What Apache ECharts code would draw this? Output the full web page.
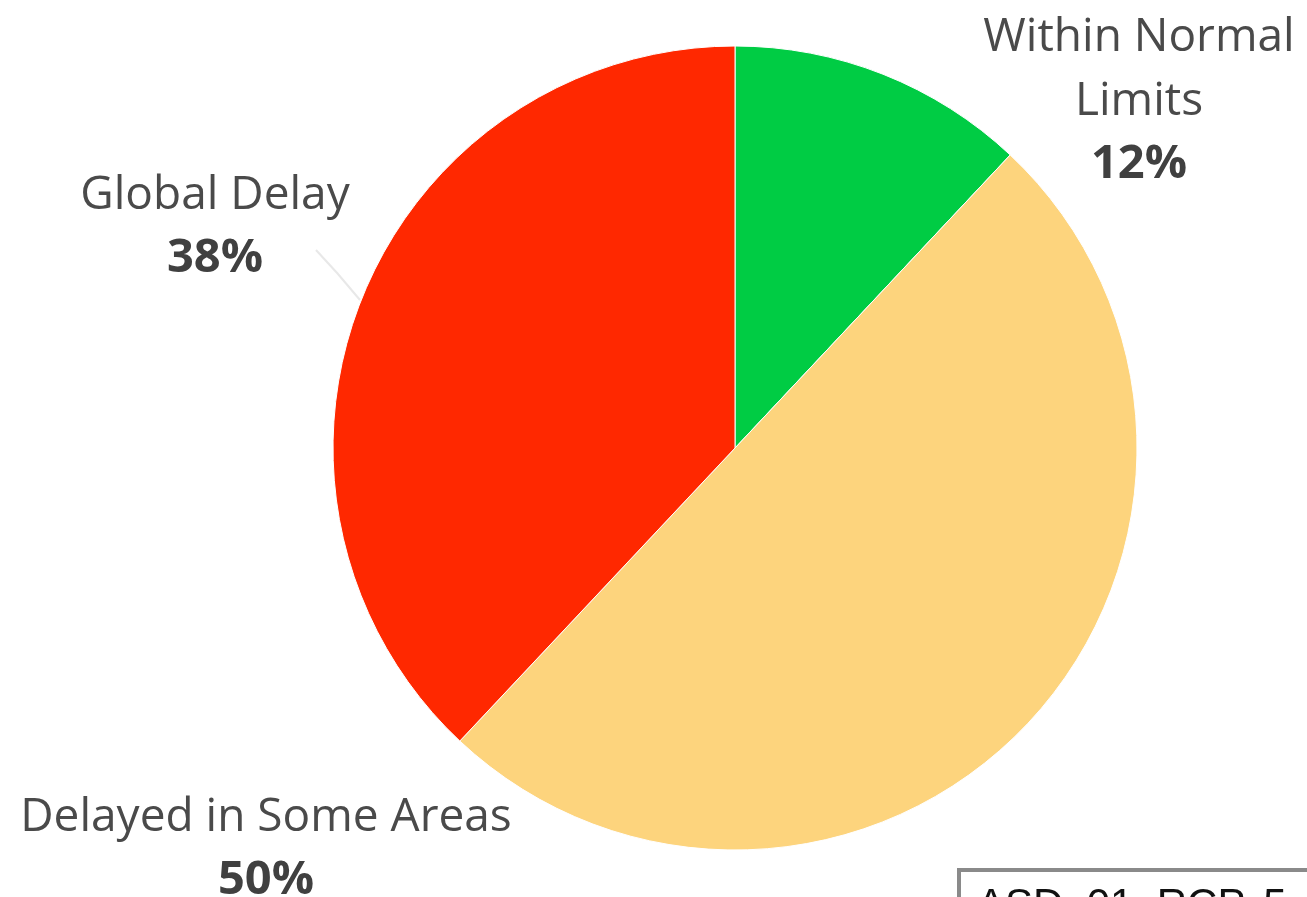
<!DOCTYPE html>
<html><head><meta charset="utf-8">
<script src="https://cdn.jsdelivr.net/npm/echarts@6/dist/echarts.min.js"></script>
<style>html,body{margin:0;padding:0;background:#fff}#c{width:1307px;height:897px}</style>
</head><body><div id="c"></div>
<script>
const categories = ['Within Normal Limits', 'Delayed in Some Areas', 'Global Delay'];
const labelNames = ['Within Normal\nLimits', 'Delayed in Some Areas', 'Global Delay'];
const values = [12, 50, 38];
const colors = ['#00CC44', '#FDD47D', '#FF2800'];
const labelPos = [[1139, 101], [266, 849], [215, 227]];

const chart = echarts.init(document.getElementById('c'), null, {renderer: 'canvas'});
chart.setOption({
  backgroundColor: '#ffffff',
  animation: false,
  series: [{
    type: 'pie',
    center: [735, 448],
    radius: [0, 402],
    startAngle: 90,
    clockwise: true,
    itemStyle: {borderColor: '#ffffff', borderWidth: 1},
    label: {
      show: true,
      position: 'outside',
      align: 'center',
      overflow: 'none',
      formatter: p => '{n|' + labelNames[p.dataIndex].split('\n').join('}\n{n|') + '}\n{p|' + p.value + '%}',
      rich: {
        n: {fontFamily: 'Open Sans', fontSize: 46, color: '#4a4a4a', lineHeight: 64, align: 'center'},
        p: {fontFamily: 'Open Sans', fontSize: 47, fontWeight: 'bold', color: '#404040', lineHeight: 62, align: 'center'}
      }
    },
    labelLine: {show: false},
    labelLayout: function (params) {
      const pos = labelPos[params.dataIndex];
      const r = {x: pos[0], y: pos[1], align: 'center', verticalAlign: 'middle', width: 600};
      if (params.dataIndex === 2) r.labelLinePoints = [[360, 300], [338, 274], [316, 250]];
      return r;
    },
    data: categories.map((c, i) => ({
      name: c, value: values[i], itemStyle: {color: colors[i]},
      labelLine: i === 2 ? {show: true, length: 10, length2: 0, lineStyle: {color: '#e8e8e8', width: 2}} : {show: false}
    }))
  }],
  graphic: [
    {type: 'rect', shape: {x: 959, y: 870, width: 400, height: 80}, style: {fill: '#ffffff', stroke: '#8a8a8a', lineWidth: 4}},
    {type: 'text', style: {x: 977, y: 885, text: 'ASD, 01, RCP, 5', font: '42px "Liberation Sans", Arial, sans-serif', fill: '#111111', textVerticalAlign: 'top'}}
  ]
});
</script></body></html>
